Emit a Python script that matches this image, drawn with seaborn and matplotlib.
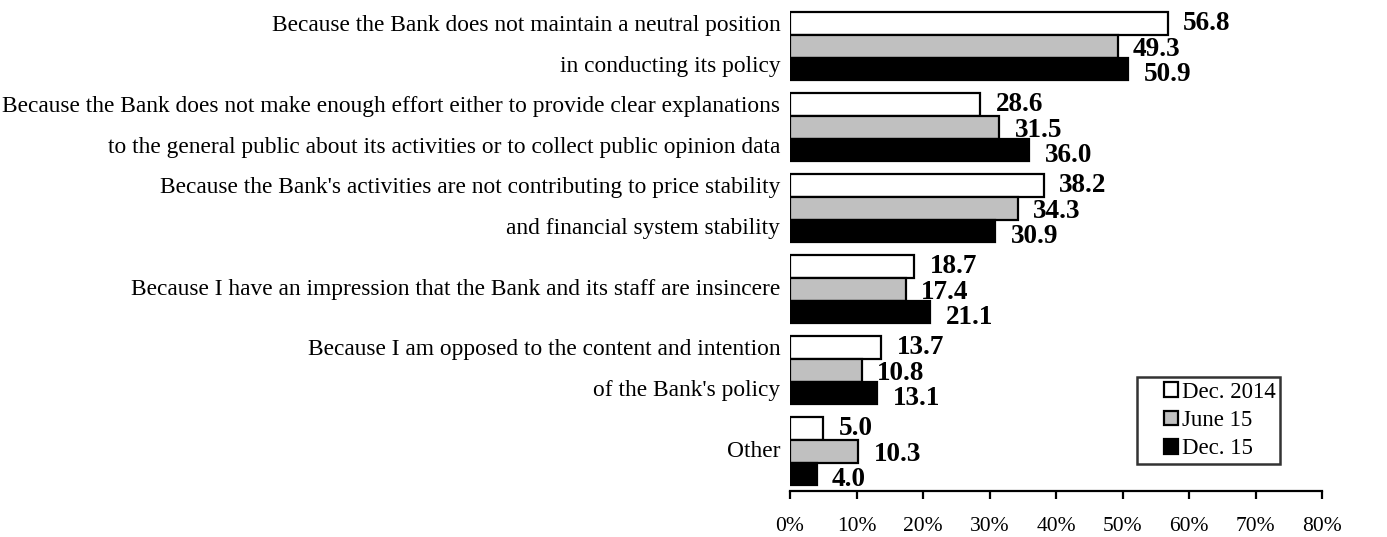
import matplotlib
matplotlib.use("Agg")
import matplotlib.pyplot as plt
import seaborn as sns
import pandas as pd
from matplotlib.ticker import FuncFormatter
from matplotlib.legend_handler import HandlerPatch
from matplotlib.patches import Rectangle

# Survey reasons and shares (%) for each survey round
reasons = [
    "Because the Bank does not maintain a neutral position\nin conducting its policy",
    "Because the Bank does not make enough effort either to provide clear explanations\nto the general public about its activities or to collect public opinion data",
    "Because the Bank's activities are not contributing to price stability\nand financial system stability",
    "Because I have an impression that the Bank and its staff are insincere",
    "Because I am opposed to the content and intention\nof the Bank's policy",
    "Other",
]
rounds = ["Dec. 2014", "June 15", "Dec. 15"]
dec_2014 = [56.8, 28.6, 38.2, 18.7, 13.7, 5.0]
june_15 = [49.3, 31.5, 34.3, 17.4, 10.8, 10.3]
dec_15 = [50.9, 36.0, 30.9, 21.1, 13.1, 4.0]
x_ticks = [0, 10, 20, 30, 40, 50, 60, 70, 80]

series = {rounds[0]: dec_2014, rounds[1]: june_15, rounds[2]: dec_15}
df = pd.DataFrame(
    [(r, rnd, v) for rnd, vals in series.items() for r, v in zip(reasons, vals)],
    columns=["reason", "round", "share"],
)

sns.set_theme(style="white")
plt.rcParams["font.family"] = ["Liberation Serif", "DejaVu Serif"]
plt.rcParams.update({"text.color": "black", "xtick.color": "black",
                     "ytick.color": "black", "axes.labelcolor": "black"})

fig = plt.figure(figsize=(13.87, 5.37), dpi=100)
ax = fig.add_axes([790 / 1387, 1 - 491 / 537, (1322 - 790) / 1387, 491 / 537])

sns.barplot(
    data=df, y="reason", x="share", hue="round", order=reasons, hue_order=rounds,
    palette=["white", "#c0c0c0", "black"], edgecolor="black", linewidth=1.6,
    width=0.84, orient="h", ax=ax, saturation=1,
)

ax.set_xlim(0, 80)
ax.set_ylim(5.49, -0.57)
ax.set_xticks(x_ticks)
ax.xaxis.set_major_formatter(FuncFormatter(lambda v, p: f"{v:.0f}%"))
ax.set_xlabel("")
ax.set_ylabel("")

for s in ["top", "right", "left"]:
    ax.spines[s].set_visible(False)
ax.spines["bottom"].set_color("black")
ax.spines["bottom"].set_linewidth(1.6)
ax.tick_params(axis="x", direction="out", length=6, width=1.6, color="black",
               labelcolor="black", labelsize=15.5, pad=13, bottom=True)
ax.tick_params(axis="y", length=0, pad=7, labelcolor="black")
for lbl in ax.get_yticklabels():
    lbl.set_fontsize(16.8)
    lbl.set_linespacing(2.25)
    lbl.set_horizontalalignment("right")
    lbl.set_verticalalignment("center")
    lbl.set_multialignment("right")

# value labels at the end of each bar, nudged a little lower for later rounds
dy = [0, -2.5, -4]
for k, cont in enumerate(ax.containers):
    for bar in cont:
        w = bar.get_width()
        yc = bar.get_y() + bar.get_height() / 2
        ax.annotate(f"{w:.1f}", xy=(w, yc), xytext=(11, dy[k]), textcoords="offset points",
                    ha="left", va="center", fontsize=19.5, fontweight="bold", color="black")


def square_patch(legend, orig_handle, xdescent, ydescent, width, height, fontsize):
    # small square key placed at the right end of the handle box
    return Rectangle((width - height - xdescent, -ydescent), height, height)


handles = [cont.patches[0] for cont in ax.containers]
leg = ax.legend(handles, rounds, loc="lower right",
                bbox_to_anchor=((1280 - 790) / 532, 27 / 491),
                handler_map={Rectangle: HandlerPatch(patch_func=square_patch)},
                frameon=True, fancybox=False, fontsize=16.5, handlelength=1.6, handleheight=0.6,
                handletextpad=0.15, borderpad=0.2, labelspacing=0.32, borderaxespad=0,
                labelcolor="black")
leg.get_frame().set_edgecolor("black")
leg.get_frame().set_linewidth(1.8)

fig.savefig("out.png", dpi=100)
